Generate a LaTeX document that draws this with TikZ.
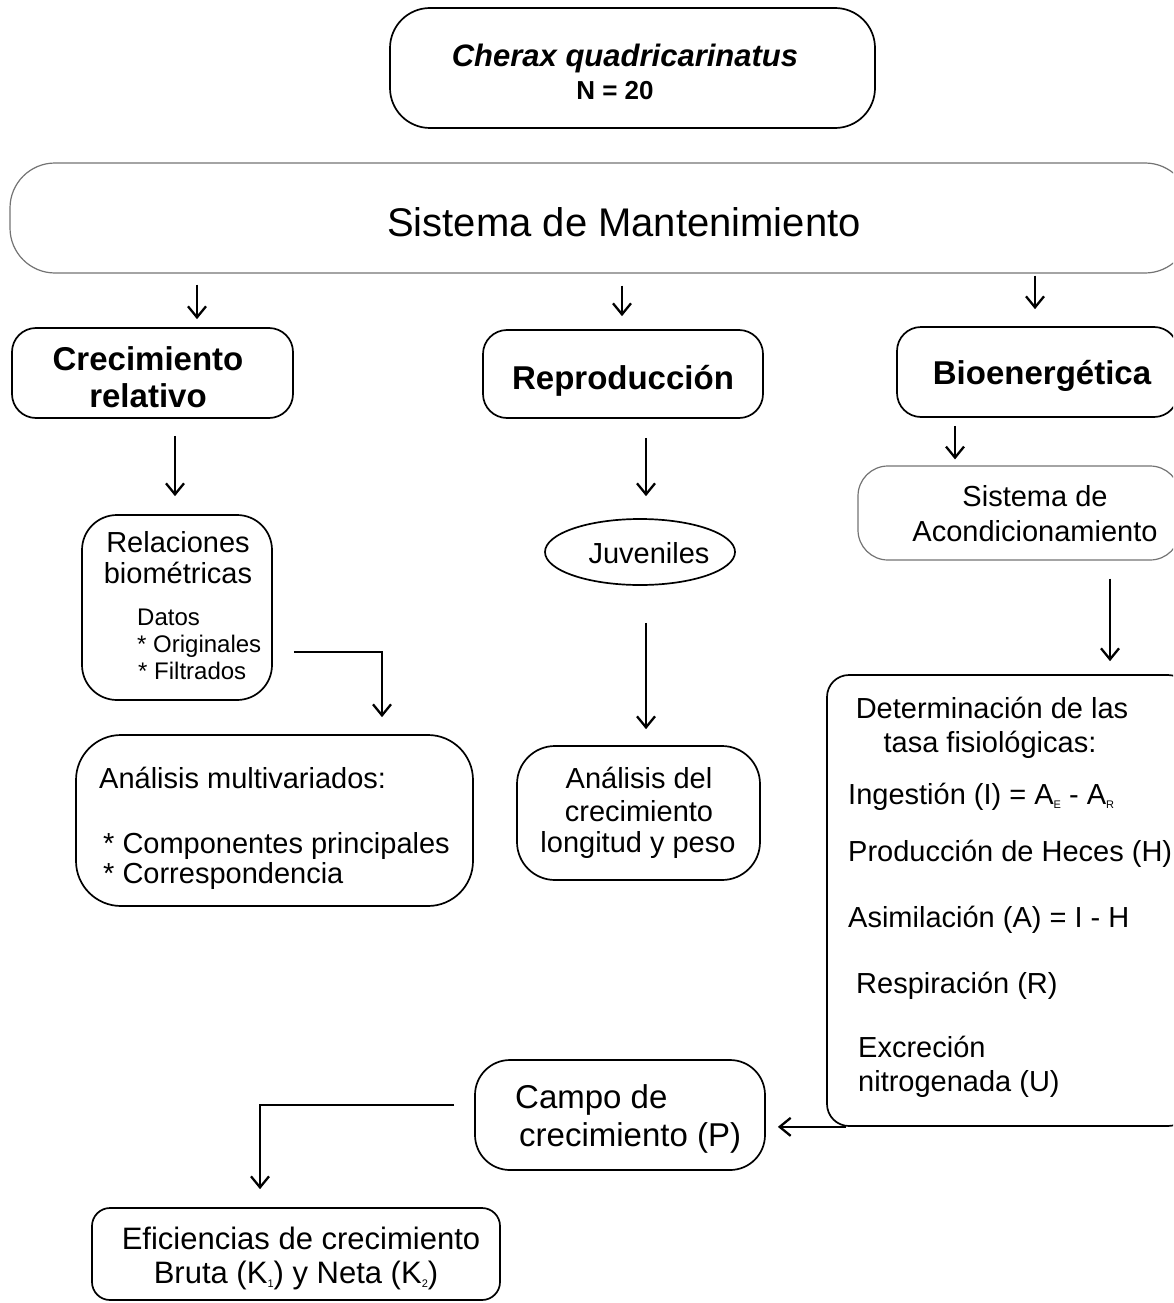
\documentclass[tikz,border=0pt]{standalone}
\usepackage{fontspec}
\setmainfont{Liberation Sans}
\usetikzlibrary{arrows.meta,calc,shapes.geometric}
\newcommand\fsz[1]{\fontsize{#1}{#1}\selectfont}
\newcommand\lowsub[1]{\raisebox{-4pt}{\fsz{11}#1}}
\begin{document}
\begin{tikzpicture}[x=1pt,y=-1pt,
  box/.style={draw, line width=1.7pt, rectangle, inner sep=0pt},
  faint/.style={draw=black!55, line width=1.2pt, rectangle, inner sep=0pt},
  arr/.style={line width=2.3pt, -{Straight Barb[length=11pt,width=18pt]}},
  ct/.style={anchor=base, inner sep=0pt},
  lt/.style={anchor=base west, inner sep=0pt},
  bf/.style={font=\fsz{33}\bfseries},
  rg/.style={font=\fsz{29}},
]
\useasboundingbox (0,0) rectangle (1173,1303);
\clip (0,0) rectangle (1173,1303);

% boxes
\node[box, minimum width=485, minimum height=120, rounded corners=40] (top) at (632.5,68) {};
\node[faint, minimum width=1180, minimum height=110, rounded corners=45] (sm) at (600,218) {};
\node[box, minimum width=281, minimum height=90, rounded corners=24] (cr) at (152.5,373) {};
\node[box, minimum width=280, minimum height=88, rounded corners=24] (rep) at (623,374) {};
\node[box, minimum width=281, minimum height=90, rounded corners=24] (bio) at (1037.5,372) {};
\node[faint, minimum width=322, minimum height=94, rounded corners=30] (ac) at (1019,513) {};
\node[box, minimum width=190, minimum height=185, rounded corners=35] (rel) at (177,607.5) {};
\node[box, minimum width=397, minimum height=171, rounded corners=45] (anm) at (274.5,820.5) {};
\node[draw, ellipse, line width=1.7pt, minimum width=190, minimum height=66, inner sep=0pt] (juv) at (640,552) {};
\node[box, minimum width=243, minimum height=134, rounded corners=38] (adc) at (638.5,813) {};
\node[box, minimum width=363, minimum height=451, rounded corners=22] (det) at (1008.5,900.5) {};
\node[box, minimum width=290, minimum height=110, rounded corners=35] (campo) at (620,1115) {};
\node[box, minimum width=408, minimum height=92, rounded corners=18] (ef) at (296,1254) {};

% texts
\node[ct, font=\fsz{31}\bfseries\itshape] (t1) at (625,67) {Cherax quadricarinatus};
\node[ct, font=\fsz{26}\bfseries] (t2) at (615,100) {N = 20};
\node[ct, font=\fsz{40}] (t3) at (624,236) {Sistema de Mantenimiento};
\node[ct, bf] (t4) at (148,370) {Crecimiento};
\node[ct, bf] (t5) at (148,407) {relativo};
\node[ct, bf] (t6) at (623,389) {Reproducción};
\node[ct, bf] (t7) at (1042,384) {Bioenergética};
\node[ct, rg] (t8) at (1035,506) {Sistema de};
\node[ct, rg] (t9) at (1035,541) {Acondicionamiento};
\node[ct, rg] (t10) at (178,552) {Relaciones};
\node[ct, rg] (t11) at (178,583) {biométricas};
\node[lt, font=\fsz{24}] (t12) at (137,625) {Datos};
\node[lt, font=\fsz{24}] (t13) at (137,652) {* Originales};
\node[lt, font=\fsz{24}] (t14) at (138,679) {* Filtrados};
\node[lt, rg] (t15) at (99,788) {Análisis multivariados:};
\node[lt, rg] (t16) at (103,853) {* Componentes principales};
\node[lt, rg] (t17) at (103,883) {* Correspondencia};
\node[ct, rg] (t18) at (649,563) {Juveniles};
\node[ct, rg] (t19) at (639,788) {Análisis del};
\node[ct, rg] (t20) at (639,821) {crecimiento};
\node[ct, rg] (t21) at (638,852) {longitud y peso};
\node[ct, rg] (t22) at (992,718) {Determinación de las};
\node[ct, rg] (t23) at (990,752) {tasa fisiológicas:};
\node[lt, rg] (t24) at (848,804) {Ingestión (I) = A\lowsub{E} - A\lowsub{R}};
\node[lt, rg] (t25) at (848,861) {Producción de Heces (H)};
\node[lt, rg] (t26) at (848,927) {Asimilación (A) = I - H};
\node[lt, rg] (t27) at (856,993) {Respiración (R)};
\node[lt, rg] (t28) at (858,1057) {Excreción};
\node[lt, rg] (t29) at (858,1091) {nitrogenada (U)};
\node[lt, font=\fsz{33}] (t30) at (515,1108) {Campo de};
\node[lt, font=\fsz{33}] (t31) at (519,1146) {crecimiento (P)};
\node[ct, font=\fsz{31}] (t32) at (301,1249) {Eficiencias de crecimiento};
\node[ct, font=\fsz{31}] (t33) at (296,1283) {Bruta (K\lowsub{1}) y Neta (K\lowsub{2})};

% connectors
\draw[arr] ($(sm.south -| cr.north)+(44.5,11)$) -- ($(cr.north)+(44.5,-8)$);
\draw[arr] ($(sm.south -| rep.north)+(-1,12)$) -- ($(rep.north)+(-1,-13)$);
\draw[arr] ($(sm.south -| bio.north)+(-2.5,2)$) -- ($(bio.north)+(-2.5,-17)$);
\draw[arr] ($(cr.south)+(22.5,17)$) -- ($(rel.north -| cr.south)+(22.5,-18)$);
\draw[arr] ($(rep.south)+(23,19)$) -- ($(juv.north -| rep.south)+(23,-22)$);
\draw[arr] ($(bio.south)+(-82.5,8)$) -- ($(ac.north -| bio.south)+(-82.5,-6)$);
\draw[arr] ($(rel.east)+(21,44.5)$) -| ($(anm.north)+(107.5,-17)$);
\draw[arr] ($(juv.south)+(6,37)$) -- ($(adc.north -| juv.south)+(6,-16)$);
\draw[arr] ($(ac.south)+(91,18)$) -- ($(det.north -| ac.south)+(91,-13)$);
\draw[arr] ($(det.south west)+(20,0)$) -- ($(campo.east |- det.south)+(12,0)$);
\draw[arr] ($(campo.west)+(-20,-10)$) -| ($(ef.north)+(-36,-18)$);
\end{tikzpicture}
\end{document}
